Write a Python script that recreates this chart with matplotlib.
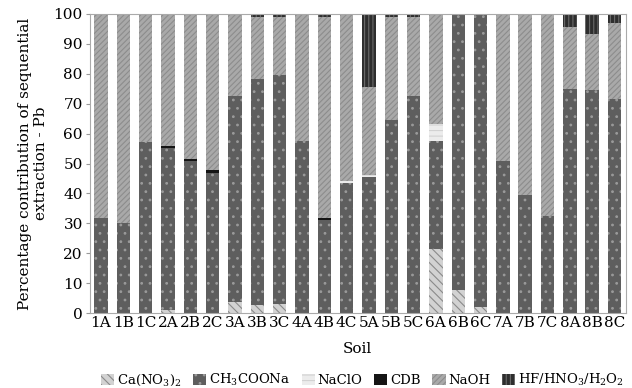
#Pb sequential extraction - stacked bars
import matplotlib
matplotlib.use("Agg")
import matplotlib.pyplot as plt
import numpy as np

soils = ["1A", "1B", "1C", "2A", "2B", "2C", "3A", "3B", "3C", "4A", "4B", "4C",
         "5A", "5B", "5C", "6A", "6B", "6C", "7A", "7B", "7C", "8A", "8B", "8C"]

# percentages (each bar sums to ~100)
ca_no3 = [0, 0, 0, 1.0, 0, 0, 3.7, 2.7, 3.0, 0, 0, 0,
          0, 0, 0, 21.6, 7.7, 2.1, 0, 0, 0, 0, 0, 0]
ch3coona = [31.8, 30.2, 57.1, 54.3, 50.8, 47.0, 68.8, 75.6, 76.7, 57.4, 31.1, 43.5,
            45.4, 64.5, 72.6, 35.8, 92.3, 97.9, 51.0, 39.5, 32.5, 74.9, 74.5, 71.5]
naclo = [0, 0, 0, 0, 0, 0, 0, 0, 0, 0, 0, 0.5,
         0.7, 0, 0, 5.7, 0, 0, 0, 0, 0, 0, 0, 0]
cdb = [0, 0, 0, 0.6, 0.7, 0.7, 0, 0, 0, 0, 0.6, 0,
       0, 0, 0, 0, 0, 0, 0, 0, 0, 0, 0, 0]
naoh = [68.2, 69.8, 42.9, 44.1, 48.5, 52.3, 27.5, 20.7, 19.3, 42.6, 67.3, 56.0,
        29.4, 34.5, 26.4, 36.9, 0, 0, 49.0, 60.5, 67.5, 20.9, 18.8, 25.6]
hf = [0, 0, 0, 0, 0, 0, 0, 1.0, 1.0, 0, 1.0, 0,
      24.5, 1.0, 1.0, 0, 0, 0, 0, 0, 0, 4.2, 6.7, 2.9]

plt.rcParams["font.family"] = ["DejaVu Serif"]
plt.rcParams["mathtext.fontset"] = "dejavuserif"
plt.rcParams["hatch.linewidth"] = 0.8

fig = plt.figure(figsize=(6.32, 3.88), dpi=100)
ax = fig.add_axes([0.142, 0.193, 0.848, 0.771])

x = np.arange(len(soils))
series = [
    (ca_no3, "Ca(NO$_3$)$_2$", "#d2d2d2", "#8a8a8a", "\\\\\\\\"),
    (ch3coona, "CH$_3$COONa", "#5e5e5e", "#9a9a9a", ".."),
    (naclo, "NaClO", "#ececec", "#d2d2d2", "---"),
    (cdb, "CDB", "#151515", "#151515", None),
    (naoh, "NaOH", "#a9a9a9", "#8c8c8c", "//////"),
    (hf, "HF/HNO$_3$/H$_2$O$_2$", "#2e2e2e", "#6a6a6a", "||||"),
]
bottom = np.zeros(len(soils))
for vals, name, fc, hc, hatch in series:
    vals = np.array(vals)
    ax.bar(x, vals, 0.6, bottom=bottom, color=fc, edgecolor=hc, linewidth=0,
           hatch=hatch, label=name)
    bottom += vals

ax.set_xlim(-0.5, len(soils) - 0.5)
ax.set_ylim(0, 100)
ax.set_yticks(range(0, 101, 10))
ax.set_xticks(x)
ax.set_xticklabels(soils)
ax.tick_params(axis="x", length=0, labelsize=11, pad=2)
ax.tick_params(axis="y", labelsize=11, length=3, color="#999999", pad=2)
for s in ax.spines.values():
    s.set_color("#aaaaaa")

ax.set_xlabel("Soil", fontsize=11, labelpad=9)
ax.set_ylabel("Percentage contribution of sequential\nextraction - Pb", fontsize=11,
              labelpad=4)

fig.legend(loc="lower right", bbox_to_anchor=(1.0, -0.02), ncol=6, frameon=False,
           fontsize=9.5, handlelength=1.0, handleheight=0.9, handletextpad=0.2,
           columnspacing=0.9, borderaxespad=0.2)

plt.savefig("out.png", dpi=100)
